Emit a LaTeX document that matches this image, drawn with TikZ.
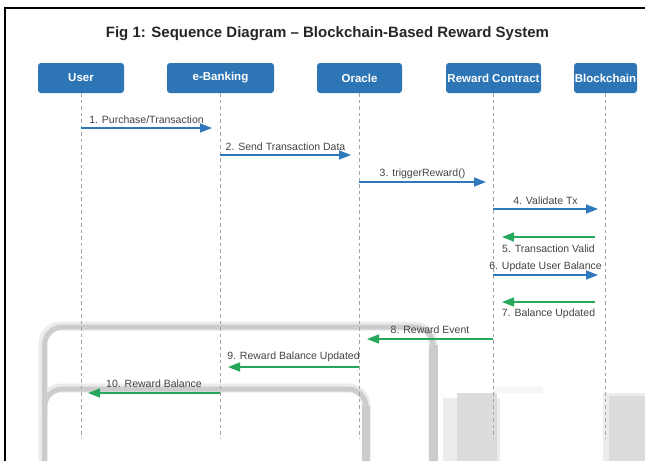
\documentclass[tikz,border=0pt]{standalone}
\usepackage{fontspec}
\setmainfont{Liberation Sans}
\usetikzlibrary{arrows.meta}

\definecolor{boxblue}{RGB}{46,117,182}
\definecolor{msgblue}{RGB}{47,120,190}
\definecolor{msggreen}{RGB}{38,168,92}
\definecolor{labelgray}{RGB}{68,68,68}
\definecolor{lifegray}{RGB}{165,165,165}
\definecolor{shadecore}{RGB}{204,204,204}
\definecolor{shademid}{RGB}{220,220,220}
\definecolor{shadesoft}{RGB}{236,236,236}
\definecolor{shadefaint}{RGB}{246,246,246}

\begin{document}
\begin{tikzpicture}[x=1pt,y=-1pt,
  actor/.style={fill=boxblue, rounded corners=3pt, minimum height=30pt,
    text=white, inner sep=0.5pt, font=\bfseries\fontsize{11.5}{13}\selectfont},
  lifeline/.style={draw=lifegray, dash pattern=on 3.5pt off 3pt, line width=0.8pt},
  call/.style={draw=msgblue, line width=1.6pt, -{Triangle[length=12pt,width=9pt]}},
  reply/.style={draw=msggreen, line width=1.6pt, -{Triangle[length=12pt,width=9pt]}},
  lbl/.style={text=labelgray, inner sep=0pt, font=\fontsize{10.5}{12}\selectfont},
  ttl/.style={text=black!85, inner sep=0pt, font=\bfseries\fontsize{15}{18}\selectfont},
  halo/.style={draw=shadesoft, line width=9pt, rounded corners=18pt},
  band/.style={draw=shadecore, line width=5pt, rounded corners=18pt},
]
\useasboundingbox (0,0) rectangle (645,461);
\fill[white] (0,0) rectangle (645,461);

% grey overlay frames and blocks in the lower part
\fill[shadesoft] (443,398) rectangle (500,461);
\fill[shademid] (457,393) rectangle (497,461);
\fill[shadesoft] (603,393) rectangle (645,461);
\fill[shademid] (609,396) rectangle (645,461);
\fill[shadefaint] (493,387) rectangle (543,393);

\draw[halo] (43,461) -- (43,326) -- (433,326) -- (433,461);
\draw[halo] (43,412) -- (43,388) -- (366,388) -- (366,461);
\draw[band] (44.5,461) -- (44.5,327) -- (433,327) -- (433,461);
\draw[band] (44.5,412) -- (44.5,389) -- (366,389) -- (366,461);
\draw[shadecore, line width=9pt] (433,345) -- (433,461);
\draw[shadecore, line width=8pt] (366,405) -- (366,461);

% outer frame
\draw[black, line width=2pt] (4,8) -- (645,8);
\draw[black, line width=2pt] (5,7) -- (5,461);

% title
\node[ttl] (title) at (327.5,34) {Fig 1: Sequence Diagram -- Blockchain-Based Reward System};

% participants
\node[actor, minimum width=86pt]  (user)   at (81,78)    {User};
\node[actor, minimum width=107pt] (bank)   at (220.5,78) {e-Banking};
\node[actor, minimum width=85pt]  (oracle) at (359.5,78) {Oracle};
\node[actor, minimum width=95pt]  (rc)     at (493.5,78) {Reward Contract};
\node[actor, minimum width=63pt]  (bc)     at (605.5,78) {Blockchain};

% lifelines
\coordinate (user-end)   at (81,438);
\coordinate (bank-end)   at (220.5,438);
\coordinate (oracle-end) at (359.5,438);
\coordinate (rc-end)     at (493.5,438);
\coordinate (bc-end)     at (605.5,438);
\draw[lifeline] (user.south)   -- (user-end);
\draw[lifeline] (bank.south)   -- (bank-end);
\draw[lifeline] (oracle.south) -- (oracle-end);
\draw[lifeline] (rc.south)     -- (rc-end);
\draw[lifeline] (bc.south)     -- (bc-end);

% message end points
\coordinate (m1s) at (81,128);   \coordinate (m1e) at (212,128);
\coordinate (m2s) at (220,155);  \coordinate (m2e) at (351,155);
\coordinate (m3s) at (359,182);  \coordinate (m3e) at (486,182);
\coordinate (m4s) at (493,209);  \coordinate (m4e) at (598,209);
\coordinate (m5s) at (595,237);  \coordinate (m5e) at (502,237);
\coordinate (m6s) at (493,275);  \coordinate (m6e) at (598,275);
\coordinate (m7s) at (595,302);  \coordinate (m7e) at (502,302);
\coordinate (m8s) at (493,339);  \coordinate (m8e) at (367,339);
\coordinate (m9s) at (359,367);  \coordinate (m9e) at (228,367);
\coordinate (m10s) at (220,393); \coordinate (m10e) at (88,393);

% messages
\draw[call] (m1s) -- (m1e) node[lbl, midway, yshift=8.5pt] {1. Purchase/Transaction};
\draw[call] (m2s) -- (m2e) node[lbl, midway, yshift=8.5pt] {2. Send Transaction Data};
\draw[call] (m3s) -- (m3e) node[lbl, midway, yshift=8.5pt] {3. triggerReward()};
\draw[call] (m4s) -- (m4e) node[lbl, midway, yshift=8pt] {4. Validate Tx};
\draw[reply] (m5s) -- (m5e) node[lbl, midway, yshift=-12pt] {5. Transaction Valid};
\draw[call] (m6s) -- (m6e) node[lbl, midway, yshift=8.5pt] {6. Update User Balance};
\draw[reply] (m7s) -- (m7e) node[lbl, midway, yshift=-12pt] {7. Balance Updated};
\draw[reply] (m8s) -- (m8e) node[lbl, midway, yshift=9pt] {8. Reward Event};
\draw[reply] (m9s) -- (m9e) node[lbl, midway, yshift=10pt] {9. Reward Balance Updated};
\draw[reply] (m10s) -- (m10e) node[lbl, midway, yshift=9pt] {10. Reward Balance};
\end{tikzpicture}
\end{document}
